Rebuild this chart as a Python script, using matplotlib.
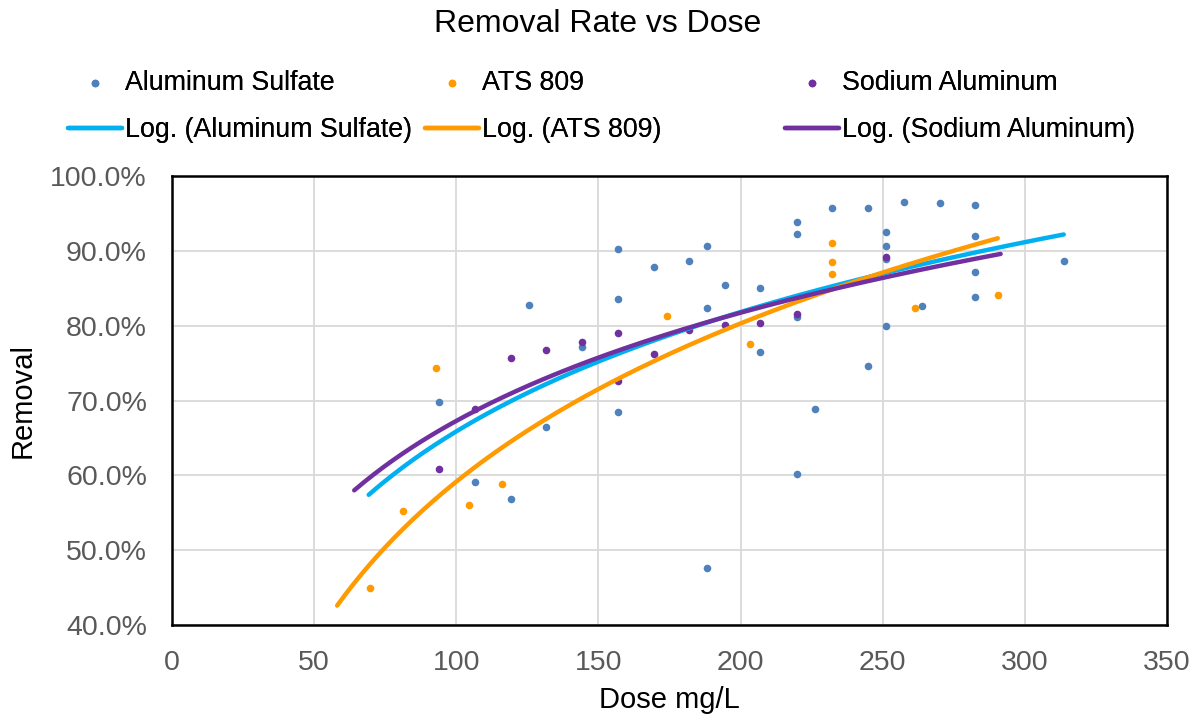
import numpy as np
import matplotlib.pyplot as plt
from matplotlib.ticker import PercentFormatter

plt.rcParams['font.family'] = ['Liberation Sans', 'DejaVu Sans']

# ---- data (dose mg/L, removal %) ----
alum_x = [94.1, 106.6, 119.3, 125.5, 131.7, 144.4, 156.9, 156.9, 156.9, 169.5,
          182.0, 188.3, 188.3, 188.3, 194.6, 207.0, 207.0, 219.7, 219.7, 219.7,
          219.7, 226.1, 232.3, 244.8, 244.8, 251.1, 251.1, 251.1, 251.1, 257.4,
          263.7, 270.0, 282.5, 282.5, 282.5, 282.5, 313.8]
alum_y = [69.8, 59.1, 56.8, 82.8, 66.5, 77.2, 90.2, 83.6, 68.4, 87.9,
          88.6, 90.7, 82.4, 47.6, 85.4, 85.1, 76.5, 93.8, 92.3, 81.1,
          60.2, 68.8, 95.7, 95.7, 74.6, 92.5, 90.6, 88.9, 79.9, 96.5,
          82.6, 96.4, 96.1, 92.0, 87.2, 83.8, 88.7]

ats_x = [69.6, 81.2, 92.7, 104.5, 116.0, 174.2, 203.3, 232.3, 232.3, 232.3, 261.4, 290.5]
ats_y = [44.9, 55.3, 74.3, 56.1, 58.8, 81.3, 77.6, 91.1, 88.5, 86.9, 82.3, 84.1]

sod_x = [94.1, 106.6, 119.3, 131.7, 144.4, 156.9, 156.9, 169.5, 182.0, 194.6, 207.0, 219.7, 251.1]
sod_y = [60.8, 68.9, 75.7, 76.7, 77.8, 79.0, 72.6, 76.2, 79.4, 80.1, 80.4, 81.6, 89.2]

# Log trendlines as shown, y = a + b*ln(x), and the x span each one covers
alum_trend = (-40.14, 23.02)
ats_trend = (-81.3, 30.5)
sod_trend = (-28.79, 20.86)
alum_span = (69.2, 313.7)
ats_span = (58.1, 290.5)
sod_span = (64.1, 291.5)

series = [
    ("Aluminum Sulfate", alum_x, alum_y, alum_trend, alum_span, "#4F81BD", "#00B0F0"),
    ("ATS 809", ats_x, ats_y, ats_trend, ats_span, "#FF9A00", "#FF9A00"),
    ("Sodium Aluminum", sod_x, sod_y, sod_trend, sod_span, "#7030A0", "#7030A0"),
]

fig = plt.figure(figsize=(11.96, 7.17), dpi=100)
ax = fig.add_axes([0.1438, 0.1283, 0.8319, 0.6262])

handles = []
for name, xs, ys, trend, span, dot_c, line_c in series:
    sc = ax.scatter(xs, ys, s=30, color=dot_c, zorder=3, label=name, linewidths=0)
    handles.append(sc)

for name, xs, ys, trend, span, dot_c, line_c in series:
    a, b = trend
    tx = np.linspace(span[0], span[1], 200)
    ln, = ax.plot(tx, a + b * np.log(tx), color=line_c, lw=3.2,
                  solid_capstyle='round', zorder=4, label=f"Log. ({name})")
    handles.append(ln)

ax.set_xlim(0, 350)
ax.set_ylim(40, 100)
ax.set_xticks(range(0, 351, 50))
ax.set_yticks(range(40, 101, 10))
ax.yaxis.set_major_formatter(PercentFormatter(decimals=1))
ax.grid(True, color="#D9D9D9", lw=1.3)
ax.set_axisbelow(True)
for sp in ax.spines.values():
    sp.set_linewidth(1.8)
    sp.set_color("black")
ax.tick_params(length=0, labelsize=20.5, labelcolor="#595959", pad=18)
ax.set_xlabel("Dose mg/L", fontsize=21, labelpad=7)
ax.set_ylabel("Removal", fontsize=21, labelpad=10)

fig.text(0.5, 1 - 24 / 717, "Removal Rate vs Dose", fontsize=23,
         ha="center", va="center")

# legend: three columns, dot on top, trendline below
col_x = [68 / 1196, 425 / 1196, 785 / 1196]
for i in range(3):
    lg = fig.legend([handles[i], handles[i + 3]],
                    [handles[i].get_label(), handles[i + 3].get_label()],
                    loc="upper left", bbox_to_anchor=(col_x[i], 1 - 70 / 717),
                    frameon=False, fontsize=19.3, handlelength=2.0,
                    handletextpad=0.11, labelspacing=0.78, borderpad=0,
                    borderaxespad=0, scatterpoints=1)
    fig.add_artist(lg)

fig.savefig("out.png", dpi=100)
